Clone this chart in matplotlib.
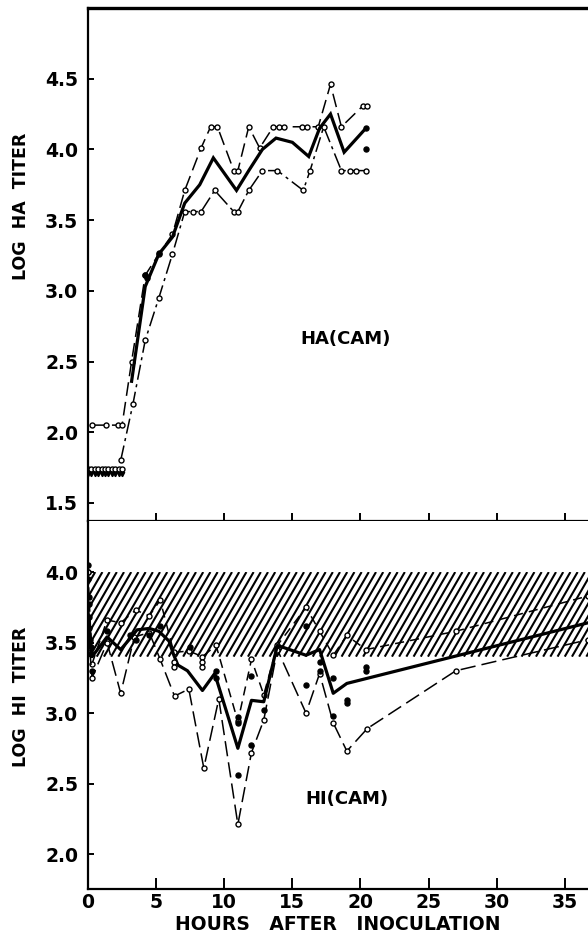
import numpy as np
import matplotlib
matplotlib.use("Agg")
import matplotlib.pyplot as plt
from matplotlib.patches import Rectangle

plt.rcParams['font.family'] = ['DejaVu Sans']
plt.rcParams['font.weight'] = 'bold'

# ---------------- HA (CAM) panel ----------------
ha_upper_h = [0.3, 1.3, 2.2, 2.5, 3.2, 4.2, 5.2, 6.2, 7.1, 8.3, 9.0, 9.5, 10.7, 11.0,
              11.8, 12.6, 13.6, 14.0, 14.4, 15.7, 16.1, 16.9, 17.8, 18.6, 20.2, 20.5]
ha_upper_v = [2.05, 2.05, 2.05, 2.05, 2.50, 3.11, 3.26, 3.40, 3.71, 4.01, 4.16, 4.16, 3.85, 3.85,
              4.16, 4.01, 4.16, 4.16, 4.16, 4.16, 4.16, 4.16, 4.46, 4.16, 4.31, 4.31]

ha_mean_h = [3.2, 4.2, 5.2, 6.2, 7.1, 8.2, 9.2, 10.9, 11.8, 12.8, 13.8, 15.0, 16.2,
             17.0, 17.8, 18.8, 20.4]
ha_mean_v = [2.36, 3.03, 3.26, 3.38, 3.62, 3.75, 3.94, 3.71, 3.85, 4.00, 4.08, 4.05, 3.95,
             4.15, 4.25, 3.98, 4.15]

ha_lower_h = [2.4, 3.3, 4.2, 5.2, 6.2, 7.1, 7.7, 8.3, 9.3, 10.7, 11.0, 11.8, 12.8, 13.9,
              15.8, 16.3, 17.3, 18.6, 19.2, 19.7, 20.4]
ha_lower_v = [1.80, 2.20, 2.65, 2.95, 3.26, 3.56, 3.56, 3.56, 3.71, 3.56, 3.56, 3.71, 3.85, 3.85,
              3.71, 3.85, 4.16, 3.85, 3.85, 3.85, 3.85]

ha_dots_h = [4.2, 4.3, 5.2, 20.4, 20.4]
ha_dots_v = [3.11, 3.09, 3.27, 4.00, 4.15]

# titers below detection limit
ha_low_h = [0.0, 0.25, 0.5, 0.75, 1.0, 1.25, 1.5, 1.75, 2.0, 2.25, 2.5]
ha_low_v = 1.74

# ---------------- HI (CAM) panel ----------------
hi_upper_h = [0.0, 0.3, 1.4, 2.4, 3.5, 4.5, 5.3, 6.3, 7.4, 8.4, 9.4, 11.0, 12.0, 12.9,
              13.9, 16.0, 17.0, 18.0, 19.0, 20.4, 27.0, 36.7]
hi_upper_v = [4.00, 3.35, 3.66, 3.64, 3.73, 3.69, 3.80, 3.43, 3.44, 3.40, 3.48, 2.94, 3.38, 3.13,
              3.48, 3.75, 3.58, 3.41, 3.55, 3.45, 3.58, 3.83]

hi_mean_h = [0.0, 0.3, 1.4, 2.4, 3.1, 3.6, 4.5, 5.2, 5.95, 6.3, 6.6, 7.3, 8.4, 9.3, 11.0,
             12.0, 12.9, 13.9, 16.0, 17.0, 18.0, 19.0, 36.7]
hi_mean_v = [3.72, 3.40, 3.54, 3.45, 3.53, 3.59, 3.60, 3.58, 3.51, 3.41, 3.34, 3.30, 3.16, 3.28,
             2.75, 3.09, 3.08, 3.48, 3.41, 3.45, 3.14, 3.21, 3.64]

hi_lower_h = [0.0, 0.3, 1.4, 2.4, 3.4, 4.5, 5.3, 6.35, 7.4, 8.5, 9.6, 11.0, 12.0, 12.9,
              13.9, 16.0, 17.0, 18.0, 19.0, 20.5, 27.0, 36.7]
hi_lower_v = [3.60, 3.25, 3.50, 3.14, 3.54, 3.57, 3.38, 3.12, 3.17, 2.61, 3.10, 2.21, 2.72, 2.95,
              3.45, 3.00, 3.28, 2.93, 2.73, 2.89, 3.30, 3.52]

hi_dots_h = [0.0, 0.0, 0.05, 0.05, 0.1, 0.1, 0.15, 0.2, 0.2, 0.3, 1.4, 3.1, 3.5, 4.5, 5.3,
             7.5, 9.4, 9.4, 11.0, 11.0, 11.0, 12.0, 12.0, 12.9, 16.0, 16.0, 17.0, 17.0,
             18.0, 18.0, 19.0, 19.0, 20.4, 20.4]
hi_dots_v = [4.05, 3.95, 3.82, 3.77, 3.68, 3.60, 3.52, 3.47, 3.42, 3.30, 3.58, 3.55, 3.52, 3.55,
             3.62, 3.47, 3.25, 3.30, 2.97, 2.93, 2.56, 3.26, 2.77, 3.02, 3.20, 3.62, 3.36, 3.30,
             3.25, 2.98, 3.07, 3.09, 3.33, 3.30]
hi_open_h = [0.0, 6.3, 6.3, 8.4, 8.4]
hi_open_v = [4.00, 3.36, 3.33, 3.36, 3.33]

band_low, band_high = 3.40, 4.00

x_max = 36.7
ha_ylim = (1.372, 5.0)
hi_ylim = (1.752, 4.362)
ha_ticks = [1.5, 2.0, 2.5, 3.0, 3.5, 4.0, 4.5]
hi_ticks = [2.0, 2.5, 3.0, 3.5, 4.0]
x_ticks = [0, 5, 10, 15, 20, 25, 30, 35]

W, H = 588, 935
fig = plt.figure(figsize=(W / 100, H / 100), dpi=100)
left_px, top1, mid, bot = 88, 8, 521, 889
ax1 = fig.add_axes([left_px / W, 1 - mid / H, (W - left_px) / W, (mid - top1) / H])
ax2 = fig.add_axes([left_px / W, 1 - bot / H, (W - left_px) / W, (bot - mid) / H])

TICK_FS = 13.5
open_mk = dict(marker='o', ms=3.6, mfc='white', mec='black', mew=1.0)


def style_axes(ax):
    ax.set_xlim(0, x_max)
    ax.spines['right'].set_visible(False)
    for s in ax.spines.values():
        s.set_linewidth(1.6)
    ax.tick_params(axis='y', direction='in', length=4, width=1.4, pad=7, labelsize=TICK_FS)
    ax.tick_params(axis='x', direction='in', length=7, width=1.4, pad=3, labelsize=TICK_FS)
    for lab in ax.get_yticklabels() + ax.get_xticklabels():
        lab.set_fontweight('bold')


# top panel
ax1.set_ylim(*ha_ylim)
ax1.set_yticks(ha_ticks)
ax1.set_yticklabels([f"{t:.1f}" for t in ha_ticks])
ax1.set_xticks(x_ticks[1:])
ax1.set_xticklabels([])
style_axes(ax1)
ax1.spines['top'].set_linewidth(2.4)
ax1.tick_params(axis='x', length=6)

ax1.plot(ha_upper_h, ha_upper_v, color='black', lw=1.1, dashes=(9, 4), **open_mk)
ax1.plot(ha_lower_h, ha_lower_v, color='black', lw=1.1, dashes=(10, 3, 2, 3), **open_mk)
ax1.plot(ha_mean_h, ha_mean_v, color='black', lw=2.3, solid_joinstyle='miter')
ax1.plot(ha_dots_h, ha_dots_v, 'o', color='black', ms=3.6)
ax1.plot(ha_low_h, [ha_low_v] * len(ha_low_h), ls='none', **open_mk)
ax1.plot(ha_low_h, [ha_low_v - 0.035] * len(ha_low_h), 'v', color='black', ms=3.2)
ax1.text(18.9, 2.66, "HA(CAM)", fontsize=13, fontweight='bold', ha='center', va='center')

# bottom panel
ax2.set_ylim(*hi_ylim)
ax2.set_yticks(hi_ticks)
ax2.set_yticklabels([f"{t:.1f}" for t in hi_ticks])
ax2.set_xticks(x_ticks)
ax2.set_xticklabels([str(t) for t in x_ticks])
style_axes(ax2)
ax2.spines['top'].set_visible(False)
ax2.tick_params(axis='x', length=8)

# hatched normal-serum range
rect = Rectangle((0, band_low), x_max, band_high - band_low, fill=False, lw=0,
                 transform=ax2.transData)
ax2.add_patch(rect)
fig.canvas.draw()
bb = ax2.get_window_extent()
px_x = x_max / bb.width
px_y = (hi_ylim[1] - hi_ylim[0]) / bb.height
spacing_px, angle = 7.2, np.deg2rad(60)
band_h_px = (band_high - band_low) / px_y
run_px = band_h_px / np.tan(angle)
starts = np.arange(-run_px, bb.width + spacing_px, spacing_px)
for s in starts:
    ln, = ax2.plot([s * px_x, (s + run_px) * px_x], [band_low, band_high],
                   color='black', lw=1.5, solid_capstyle='butt')
    ln.set_clip_path(rect)

ax2.plot(hi_upper_h, hi_upper_v, color='black', lw=1.1, dashes=(6, 4), **open_mk)
ax2.plot(hi_lower_h, hi_lower_v, color='black', lw=1.1, dashes=(10, 4), **open_mk)
ax2.plot(hi_mean_h, hi_mean_v, color='black', lw=2.3)
ax2.plot(hi_dots_h, hi_dots_v, 'o', color='black', ms=3.6)
ax2.plot(hi_open_h, hi_open_v, ls='none', **open_mk)
ax2.text(19.0, 2.39, "HI(CAM)", fontsize=13, fontweight='bold', ha='center', va='center')

fig.text(21 / W, 1 - 206 / H, "LOG  HA  TITER", rotation=90, ha='center', va='center',
         fontsize=12.5, fontweight='bold')
fig.text(21 / W, 1 - 697 / H, "LOG  HI  TITER", rotation=90, ha='center', va='center',
         fontsize=12.5, fontweight='bold')
fig.text(338 / W, 1 - 924 / H, "HOURS   AFTER   INOCULATION", ha='center', va='center',
         fontsize=13.5, fontweight='bold')

fig.savefig("out.png", dpi=100)
